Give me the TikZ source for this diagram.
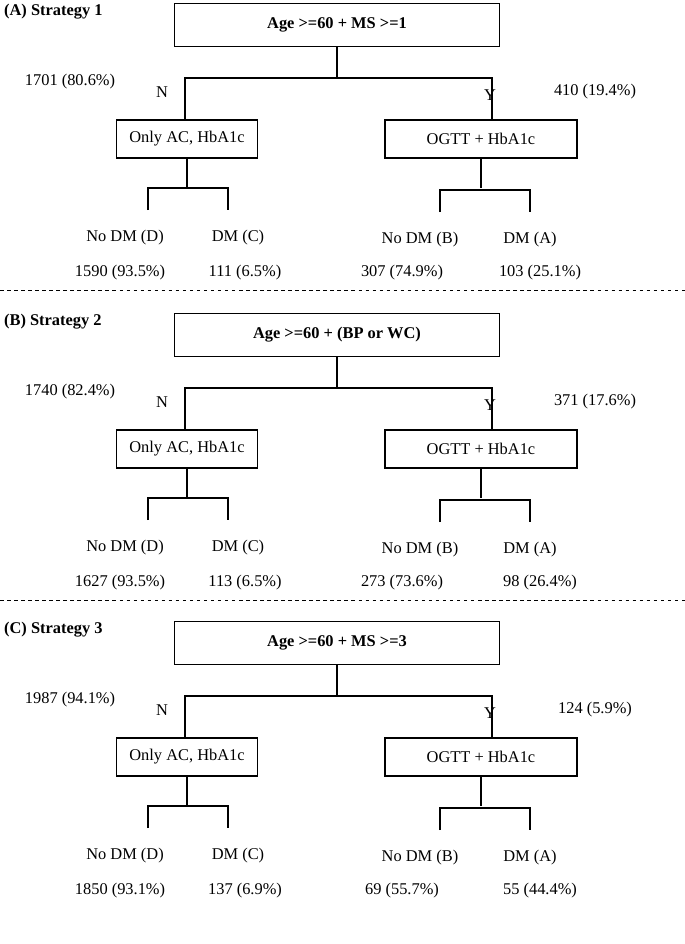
\documentclass[tikz,border=0pt]{standalone}
\usepackage{fontspec}
\setmainfont{Liberation Serif}
\usetikzlibrary{positioning}

\tikzset{
  critbox/.style={draw, very thick, minimum width=325*0.03cm, minimum height=43*0.03cm, font=\fontsize{14}{16}\selectfont\bfseries},
  armbox/.style={draw, very thick, minimum height=38*0.03cm},
  branch/.style={very thick},
  lbl/.style={inner sep=1pt}
}

\begin{document}
\begin{tikzpicture}[x=0.03cm, y=-0.03cm, font=\fontsize{14}{16}\selectfont]
  \useasboundingbox (0,0) rectangle (685,944);
  % one panel per strategy
  \foreach \i/\dy/\title/\crit/\nl/\nr/\dd/\dc/\db/\da in {
      A/0/Strategy 1/{Age >=60 + MS >=1}/{1701 (80.6\%)}/{410 (19.4\%)}/{1590 (93.5\%)}/{111 (6.5\%)}/{307 (74.9\%)}/{103 (25.1\%)},
      B/310/Strategy 2/{Age >=60 + (BP or WC)}/{1740 (82.4\%)}/{371 (17.6\%)}/{1627 (93.5\%)}/{113 (6.5\%)}/{273 (73.6\%)}/{98 (26.4\%)},
      C/618/Strategy 3/{Age >=60 + MS >=3}/{1987 (94.1\%)}/{124 (5.9\%)}/{1850 (93.1\%)}/{137 (6.9\%)}/{69 (55.7\%)}/{55 (44.4\%)}} {
    \begin{scope}[yshift=-\dy*0.03cm]
      \node (title\i) [anchor=west, font=\fontsize{14}{16}\selectfont\bfseries] at (0,12) {(\i) \title};
      \node (crit\i) [critbox] at (337,25) {\crit};
      \coordinate (split\i) at (337,78);
      \coordinate (nl\i) at (185,78);
      \coordinate (nr\i) at (492,78);
      \node (ac\i) [armbox, minimum width=141*0.03cm] at (187,139) {Only AC, HbA1c};
      \node (og\i) [armbox, minimum width=192*0.03cm] at (481,139) {OGTT + HbA1c};
      \draw[branch] (crit\i.south) -- (split\i);
      \draw[branch] (ac\i.north -| nl\i) -- (nl\i) -- (nr\i) -- (og\i.north -| nr\i);
      \node (N\i) [lbl] at (162,92) {N};
      \node (Y\i) [lbl] at (490,95) {Y};
      \node (cntl\i) [lbl] at (70,82) {\nl};
      \node (cntr\i) [lbl] at (595,92) {\nr};
      % left arm
      \coordinate (sl\i) at (187,188);
      \draw[branch] (ac\i.south) -- (sl\i);
      \draw[branch] (148,210) -- (148,188) -- (228,188) -- (228,210);
      \node (D\i) [lbl] at (125,238) {No DM (D)};
      \node (Cc\i) [lbl] at (238,238) {DM (C)};
      \node (nD\i) [lbl] at (120,273) {\dd};
      \node (nC\i) [lbl] at (245,273) {\dc};
      % right arm
      \coordinate (sr\i) at (481,188);
      \draw[branch] (og\i.south) -- (sr\i);
      \draw[branch] (440,212) -- (440,190) -- (530,190) -- (530,212);
      \node (Bb\i) [lbl] at (420,240) {No DM (B)};
      \node (Aa\i) [lbl] at (530,240) {DM (A)};
      \node (nB\i) [lbl] at (402,273) {\db};
      \node (nA\i) [lbl] at (540,273) {\da};
    \end{scope}
  }
  \draw[dashed] (0,290) -- (685,290);
  \draw[dashed] (0,600) -- (685,600);
\end{tikzpicture}
\end{document}
